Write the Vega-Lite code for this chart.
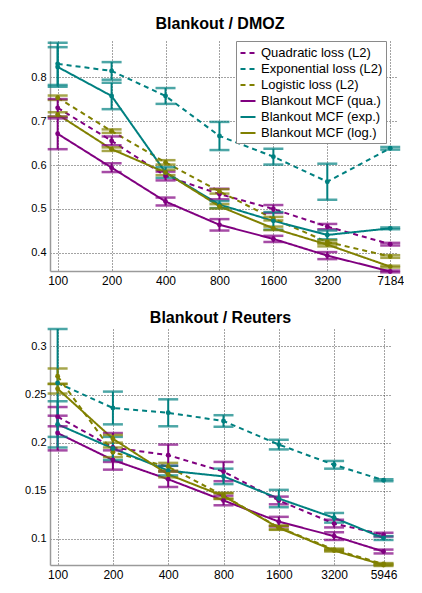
{
  "$schema": "https://vega.github.io/schema/vega-lite/v6.json",
  "padding": {"left": 24, "top": 15, "right": 0, "bottom": 0},
  "background": "#ffffff",
  "config": {
    "font": "Liberation Sans",
    "view": {"stroke": null},
    "axis": {"labelFont": "Liberation Sans", "labelFontSize": 12, "labelColor": "#000000", "domainColor": "#9a9a9a", "domainWidth": 1.5, "tickSize": 0, "labelPadding": 4, "gridColor": "#333333", "gridDash": [1, 2], "gridWidth": 1, "gridOpacity": 0.9},
    "axisY": {"labelFontSize": 11},
    "title": {"font": "Liberation Sans", "fontSize": 16, "fontWeight": "bold", "color": "#000000", "anchor": "middle", "baseline": "alphabetic"}
  },
  "datasets": {
    "dmoz": [
      {"s": "Quadratic loss (L2)", "n": 100, "v": 0.730, "e": 0.020},
      {"s": "Quadratic loss (L2)", "n": 200, "v": 0.655, "e": 0.010},
      {"s": "Quadratic loss (L2)", "n": 400, "v": 0.575, "e": 0.010},
      {"s": "Quadratic loss (L2)", "n": 800, "v": 0.534, "e": 0.012},
      {"s": "Quadratic loss (L2)", "n": 1600, "v": 0.500, "e": 0.009},
      {"s": "Quadratic loss (L2)", "n": 3200, "v": 0.460, "e": 0.006},
      {"s": "Quadratic loss (L2)", "n": 7184, "v": 0.420, "e": 0.003},
      {"s": "Exponential loss (L2)", "n": 100, "v": 0.830, "e": 0.048},
      {"s": "Exponential loss (L2)", "n": 200, "v": 0.814, "e": 0.020},
      {"s": "Exponential loss (L2)", "n": 400, "v": 0.757, "e": 0.018},
      {"s": "Exponential loss (L2)", "n": 800, "v": 0.666, "e": 0.032},
      {"s": "Exponential loss (L2)", "n": 1600, "v": 0.619, "e": 0.018},
      {"s": "Exponential loss (L2)", "n": 3200, "v": 0.562, "e": 0.041},
      {"s": "Exponential loss (L2)", "n": 7184, "v": 0.638, "e": 0.003},
      {"s": "Logistic loss (L2)", "n": 100, "v": 0.753, "e": 0.005},
      {"s": "Logistic loss (L2)", "n": 200, "v": 0.677, "e": 0.004},
      {"s": "Logistic loss (L2)", "n": 400, "v": 0.606, "e": 0.005},
      {"s": "Logistic loss (L2)", "n": 800, "v": 0.540, "e": 0.005},
      {"s": "Logistic loss (L2)", "n": 1600, "v": 0.478, "e": 0.004},
      {"s": "Logistic loss (L2)", "n": 3200, "v": 0.425, "e": 0.004},
      {"s": "Logistic loss (L2)", "n": 7184, "v": 0.392, "e": 0.003},
      {"s": "Blankout MCF (qua.)", "n": 100, "v": 0.671, "e": 0.035},
      {"s": "Blankout MCF (qua.)", "n": 200, "v": 0.594, "e": 0.010},
      {"s": "Blankout MCF (qua.)", "n": 400, "v": 0.517, "e": 0.009},
      {"s": "Blankout MCF (qua.)", "n": 800, "v": 0.464, "e": 0.013},
      {"s": "Blankout MCF (qua.)", "n": 1600, "v": 0.432, "e": 0.007},
      {"s": "Blankout MCF (qua.)", "n": 3200, "v": 0.394, "e": 0.008},
      {"s": "Blankout MCF (qua.)", "n": 7184, "v": 0.358, "e": 0.002},
      {"s": "Blankout MCF (exp.)", "n": 100, "v": 0.823, "e": 0.045},
      {"s": "Blankout MCF (exp.)", "n": 200, "v": 0.757, "e": 0.030},
      {"s": "Blankout MCF (exp.)", "n": 400, "v": 0.583, "e": 0.012},
      {"s": "Blankout MCF (exp.)", "n": 800, "v": 0.510, "e": 0.008},
      {"s": "Blankout MCF (exp.)", "n": 1600, "v": 0.473, "e": 0.020},
      {"s": "Blankout MCF (exp.)", "n": 3200, "v": 0.441, "e": 0.010},
      {"s": "Blankout MCF (exp.)", "n": 7184, "v": 0.456, "e": 0.002},
      {"s": "Blankout MCF (log.)", "n": 100, "v": 0.715, "e": 0.005},
      {"s": "Blankout MCF (log.)", "n": 200, "v": 0.636, "e": 0.004},
      {"s": "Blankout MCF (log.)", "n": 400, "v": 0.583, "e": 0.006},
      {"s": "Blankout MCF (log.)", "n": 800, "v": 0.506, "e": 0.005},
      {"s": "Blankout MCF (log.)", "n": 1600, "v": 0.456, "e": 0.004},
      {"s": "Blankout MCF (log.)", "n": 3200, "v": 0.419, "e": 0.004},
      {"s": "Blankout MCF (log.)", "n": 7184, "v": 0.369, "e": 0.002}
    ],
    "reuters": [
      {"s": "Quadratic loss (L2)", "n": 100, "v": 0.227, "e": 0.010},
      {"s": "Quadratic loss (L2)", "n": 200, "v": 0.195, "e": 0.015},
      {"s": "Quadratic loss (L2)", "n": 400, "v": 0.187, "e": 0.011},
      {"s": "Quadratic loss (L2)", "n": 800, "v": 0.170, "e": 0.010},
      {"s": "Quadratic loss (L2)", "n": 1600, "v": 0.140, "e": 0.004},
      {"s": "Quadratic loss (L2)", "n": 3200, "v": 0.116, "e": 0.004},
      {"s": "Quadratic loss (L2)", "n": 5946, "v": 0.1045, "e": 0.002},
      {"s": "Exponential loss (L2)", "n": 100, "v": 0.262, "e": 0.056},
      {"s": "Exponential loss (L2)", "n": 200, "v": 0.236, "e": 0.017},
      {"s": "Exponential loss (L2)", "n": 400, "v": 0.231, "e": 0.014},
      {"s": "Exponential loss (L2)", "n": 800, "v": 0.2225, "e": 0.006},
      {"s": "Exponential loss (L2)", "n": 1600, "v": 0.198, "e": 0.005},
      {"s": "Exponential loss (L2)", "n": 3200, "v": 0.177, "e": 0.004},
      {"s": "Exponential loss (L2)", "n": 5946, "v": 0.161, "e": 0.001},
      {"s": "Logistic loss (L2)", "n": 100, "v": 0.269, "e": 0.008},
      {"s": "Logistic loss (L2)", "n": 200, "v": 0.190, "e": 0.005},
      {"s": "Logistic loss (L2)", "n": 400, "v": 0.175, "e": 0.004},
      {"s": "Logistic loss (L2)", "n": 800, "v": 0.145, "e": 0.003},
      {"s": "Logistic loss (L2)", "n": 1600, "v": 0.112, "e": 0.002},
      {"s": "Logistic loss (L2)", "n": 3200, "v": 0.089, "e": 0.001},
      {"s": "Logistic loss (L2)", "n": 5946, "v": 0.074, "e": 0.001},
      {"s": "Blankout MCF (qua.)", "n": 100, "v": 0.210, "e": 0.018},
      {"s": "Blankout MCF (qua.)", "n": 200, "v": 0.182, "e": 0.010},
      {"s": "Blankout MCF (qua.)", "n": 400, "v": 0.162, "e": 0.008},
      {"s": "Blankout MCF (qua.)", "n": 800, "v": 0.140, "e": 0.005},
      {"s": "Blankout MCF (qua.)", "n": 1600, "v": 0.118, "e": 0.005},
      {"s": "Blankout MCF (qua.)", "n": 3200, "v": 0.103, "e": 0.004},
      {"s": "Blankout MCF (qua.)", "n": 5946, "v": 0.087, "e": 0.002},
      {"s": "Blankout MCF (exp.)", "n": 100, "v": 0.219, "e": 0.024},
      {"s": "Blankout MCF (exp.)", "n": 200, "v": 0.194, "e": 0.012},
      {"s": "Blankout MCF (exp.)", "n": 400, "v": 0.171, "e": 0.005},
      {"s": "Blankout MCF (exp.)", "n": 800, "v": 0.165, "e": 0.008},
      {"s": "Blankout MCF (exp.)", "n": 1600, "v": 0.142, "e": 0.009},
      {"s": "Blankout MCF (exp.)", "n": 3200, "v": 0.122, "e": 0.005},
      {"s": "Blankout MCF (exp.)", "n": 5946, "v": 0.101, "e": 0.002},
      {"s": "Blankout MCF (log.)", "n": 100, "v": 0.256, "e": 0.005},
      {"s": "Blankout MCF (log.)", "n": 200, "v": 0.204, "e": 0.004},
      {"s": "Blankout MCF (log.)", "n": 400, "v": 0.167, "e": 0.003},
      {"s": "Blankout MCF (log.)", "n": 800, "v": 0.1445, "e": 0.003},
      {"s": "Blankout MCF (log.)", "n": 1600, "v": 0.1115, "e": 0.002},
      {"s": "Blankout MCF (log.)", "n": 3200, "v": 0.088, "e": 0.001},
      {"s": "Blankout MCF (log.)", "n": 5946, "v": 0.073, "e": 0.001}
    ]
  },
  "columns": 1,
  "align": "none",
  "spacing": 23,
  "resolve": {"scale": {"color": "independent", "strokeDash": "independent", "x": "independent", "y": "independent"}, "legend": {"color": "independent", "strokeDash": "independent"}},
  "concat": [
    {
      "width": 348,
      "height": 230,
      "title": {"text": "Blankout / DMOZ", "offset": 9, "dx": -4},
      "data": {"name": "dmoz"},
      "encoding": {
        "x": {"field": "n", "type": "quantitative", "title": null, "scale": {"type": "log", "domain": [90.6, 7940], "nice": false}, "axis": {"values": [100, 200, 400, 800, 1600, 3200, 7184], "format": "d", "grid": true}},
        "y": {"field": "v", "type": "quantitative", "title": null, "scale": {"domain": [0.359, 0.882], "nice": false, "zero": false}, "axis": {"values": [0.4, 0.5, 0.6, 0.7, 0.8], "format": ".1f", "grid": true}}
      },
      "layer": [
        {
          "mark": {"type": "line", "strokeWidth": 2},
          "encoding": {
            "color": {"field": "s", "type": "nominal", "scale": {"domain": ["Quadratic loss (L2)", "Exponential loss (L2)", "Logistic loss (L2)", "Blankout MCF (qua.)", "Blankout MCF (exp.)", "Blankout MCF (log.)"], "range": ["#800080", "#008080", "#808000", "#800080", "#008080", "#808000"]}, "legend": {"title": null, "orient": "none", "legendX": 186, "legendY": 0, "symbolType": "stroke", "symbolSize": 225, "symbolStrokeWidth": 2.2, "labelFontSize": 13, "labelFont": "Liberation Sans", "labelColor": "#000000", "fillColor": "#ffffff", "strokeColor": "#8a8a8a", "padding": 3, "rowPadding": -2, "labelOffset": 4}},
            "strokeDash": {"field": "s", "type": "nominal", "scale": {"domain": ["Quadratic loss (L2)", "Exponential loss (L2)", "Logistic loss (L2)", "Blankout MCF (qua.)", "Blankout MCF (exp.)", "Blankout MCF (log.)"], "range": [[5, 4], [5, 4], [5, 4], [1, 0], [1, 0], [1, 0]]}, "legend": {"title": null, "orient": "none", "legendX": 186, "legendY": 0, "symbolType": "stroke", "symbolSize": 225, "symbolStrokeWidth": 2.2, "labelFontSize": 13, "labelFont": "Liberation Sans", "labelColor": "#000000", "fillColor": "#ffffff", "strokeColor": "#8a8a8a", "padding": 3, "rowPadding": -2, "labelOffset": 4}}
          }
        },
        {
          "mark": {"type": "errorbar", "ticks": {"thickness": 2.5}, "size": 20, "rule": {"strokeWidth": 2}},
          "encoding": {
            "yError": {"field": "e"},
            "color": {"field": "s", "type": "nominal", "legend": null}
          }
        },
        {
          "mark": {"type": "point", "filled": true, "size": 24, "opacity": 1},
          "encoding": {
            "color": {"field": "s", "type": "nominal", "legend": null}
          }
        }
      ]
    },
    {
      "width": 341,
      "height": 236,
      "title": {"text": "Blankout / Reuters", "offset": 2},
      "data": {"name": "reuters"},
      "encoding": {
        "x": {"field": "n", "type": "quantitative", "title": null, "scale": {"type": "log", "domain": [90.9, 6530], "nice": false}, "axis": {"values": [100, 200, 400, 800, 1600, 3200, 5946], "format": "d", "grid": true}},
        "y": {"field": "v", "type": "quantitative", "title": null, "scale": {"domain": [0.073, 0.318], "nice": false, "zero": false}, "axis": {"values": [0.1, 0.15, 0.2, 0.25, 0.3], "format": ".2~f", "grid": true}}
      },
      "layer": [
        {
          "mark": {"type": "line", "strokeWidth": 2},
          "encoding": {
            "color": {"field": "s", "type": "nominal", "scale": {"domain": ["Quadratic loss (L2)", "Exponential loss (L2)", "Logistic loss (L2)", "Blankout MCF (qua.)", "Blankout MCF (exp.)", "Blankout MCF (log.)"], "range": ["#800080", "#008080", "#808000", "#800080", "#008080", "#808000"]}, "legend": null},
            "strokeDash": {"field": "s", "type": "nominal", "scale": {"domain": ["Quadratic loss (L2)", "Exponential loss (L2)", "Logistic loss (L2)", "Blankout MCF (qua.)", "Blankout MCF (exp.)", "Blankout MCF (log.)"], "range": [[5, 4], [5, 4], [5, 4], [1, 0], [1, 0], [1, 0]]}, "legend": null}
          }
        },
        {
          "mark": {"type": "errorbar", "ticks": {"thickness": 2.5}, "size": 20, "rule": {"strokeWidth": 2}},
          "encoding": {
            "yError": {"field": "e"},
            "color": {"field": "s", "type": "nominal", "legend": null}
          }
        },
        {
          "mark": {"type": "point", "filled": true, "size": 24, "opacity": 1},
          "encoding": {
            "color": {"field": "s", "type": "nominal", "legend": null}
          }
        }
      ]
    }
  ]
}
